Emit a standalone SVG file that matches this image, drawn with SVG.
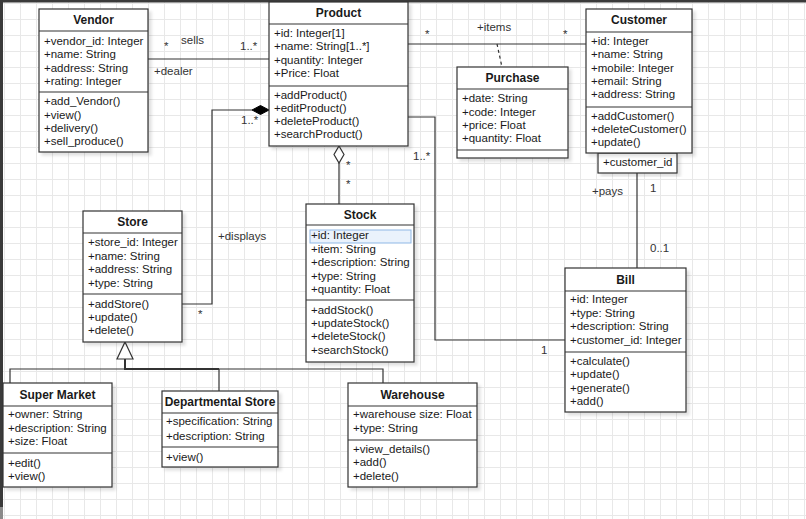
<svg xmlns="http://www.w3.org/2000/svg" width="806" height="519" viewBox="0 0 806 519">
  <style>
    text { font-family: "Liberation Sans", Arial, sans-serif; font-size: 11.5px; fill: #1a1a1a; }
    .h { font-weight: bold; text-anchor: middle; font-size: 12px; }
    .lbl { fill: #333; }
    .box { fill: #fff; stroke: #333; stroke-width: 1.2; filter: url(#shadow); }
    .sep { stroke: #333; stroke-width: 1.2; fill: none; }
    .edge { stroke: #333; stroke-width: 1.2; fill: none; }
  </style>
  <defs>
    <pattern id="grid" patternUnits="userSpaceOnUse" x="4" y="3" width="16" height="16">
      <path d="M0 0.5H16M0.5 0V16" stroke="#e8e8e8" stroke-width="1" fill="none"/>
    </pattern>
    <filter id="shadow" x="-10%" y="-10%" width="130%" height="130%">
      <feDropShadow dx="3" dy="3" stdDeviation="1.5" flood-color="#000" flood-opacity="0.12"/>
    </filter>
  </defs>

  <!-- canvas -->
  <rect width="806" height="519" fill="#fff"/>
  <rect width="806" height="519" fill="url(#grid)"/>
  <rect x="0" y="0" width="806" height="2.5" fill="#3a3a3a"/>
  <rect x="0" y="0" width="3" height="507" fill="#3a3a3a"/>
  <rect x="0" y="507" width="3" height="12" fill="#8a8a8a"/>

  <!-- connectors -->
  <g id="connectors">
    <!-- Vendor - Product -->
    <path class="edge" d="M148 59H269"/>
    <!-- Product - Customer with Purchase association class -->
    <path class="edge" d="M408 44H586"/>
    <path class="edge" d="M497 44L502 67" stroke-dasharray="3 3"/>
    <!-- Store - Product composition -->
    <path class="edge" d="M252 110H212V304H182"/>
    <polygon points="269,110 260.5,105.5 252,110 260.5,114.5" fill="#000" stroke="#000" stroke-width="1"/>
    <!-- Product - Stock aggregation -->
    <path class="edge" d="M339 163V204"/>
    <polygon points="339,146 344,154.5 339,163 334,154.5" fill="#fff" stroke="#333" stroke-width="1.2"/>
    <!-- Product - Bill -->
    <path class="edge" d="M408 117H435V340H565"/>
    <!-- Customer - Bill -->
    <path class="edge" d="M637 173V268"/>
    <!-- Store generalization -->
    <path class="edge" d="M125 359V369M10 383V369H383V383M219 369V391"/>
    <path d="M125 359V369H219" stroke="#333" stroke-width="2" fill="none"/>
    <polygon points="125,342 133,359 117,359" fill="#fff" stroke="#333" stroke-width="1.2"/>

    <text class="lbl" x="164" y="50">*</text>
    <text class="lbl" x="181" y="44">sells</text>
    <text class="lbl" x="240" y="50">1..*</text>
    <text class="lbl" x="154" y="75">+dealer</text>

    <text class="lbl" x="425" y="38">*</text>
    <text class="lbl" x="477" y="31">+items</text>
    <text class="lbl" x="563" y="38">*</text>

    <text class="lbl" x="241" y="124">1..*</text>
    <text class="lbl" x="198" y="318">*</text>
    <text class="lbl" x="218" y="240">+displays</text>

    <text class="lbl" x="346" y="169">*</text>
    <text class="lbl" x="346" y="188">*</text>

    <text class="lbl" x="413" y="160">1..*</text>
    <text class="lbl" x="541" y="354">1</text>

    <text class="lbl" x="592" y="195">+pays</text>
    <text class="lbl" x="650" y="192">1</text>
    <text class="lbl" x="650" y="252">0..1</text>
  </g>

  <!-- Vendor -->
  <g id="vendor">
    <rect class="box" x="39" y="9" width="109" height="143"/>
    <path class="sep" d="M39 31H148M39 92H148"/>
    <text class="h" x="93.5" y="24">Vendor</text>
    <text x="44" y="45">+vendor_id: Integer</text>
    <text x="44" y="58">+name: String</text>
    <text x="44" y="71.5">+address: String</text>
    <text x="44" y="84.5">+rating: Integer</text>
    <text x="44" y="105">+add_Vendor()</text>
    <text x="44" y="118.5">+view()</text>
    <text x="44" y="131.5">+delivery()</text>
    <text x="44" y="145">+sell_produce()</text>
  </g>

  <!-- Product -->
  <g id="product">
    <rect class="box" x="269" y="2" width="139" height="144"/>
    <path class="sep" d="M269 24H408M269 86H408"/>
    <text class="h" x="338.5" y="17">Product</text>
    <text x="274" y="37">+id: Integer[1]</text>
    <text x="274" y="50">+name: String[1..*]</text>
    <text x="274" y="64">+quantity: Integer</text>
    <text x="274" y="77">+Price: Float</text>
    <text x="274" y="99">+addProduct()</text>
    <text x="274" y="112">+editProduct()</text>
    <text x="274" y="125">+deleteProduct()</text>
    <text x="274" y="138">+searchProduct()</text>
  </g>

  <!-- Customer -->
  <g id="customer">
    <rect class="box" x="598" y="153" width="79" height="20"/>
    <text x="603" y="165.5">+customer_id</text>
    <rect class="box" x="586" y="9" width="106" height="144"/>
    <path class="sep" d="M586 32H692M586 107H692"/>
    <text class="h" x="639" y="24">Customer</text>
    <text x="591" y="45">+id: Integer</text>
    <text x="591" y="58">+name: String</text>
    <text x="591" y="71.5">+mobile: Integer</text>
    <text x="591" y="84.5">+email: String</text>
    <text x="591" y="98">+address: String</text>
    <text x="591" y="120">+addCustomer()</text>
    <text x="591" y="133">+deleteCustomer()</text>
    <text x="591" y="146">+update()</text>
  </g>

  <!-- Purchase -->
  <g id="purchase">
    <rect class="box" x="457" y="67" width="111" height="91"/>
    <path class="sep" d="M457 89H568M457 150H568"/>
    <text class="h" x="512.5" y="82">Purchase</text>
    <text x="462" y="102">+date: String</text>
    <text x="462" y="115.5">+code: Integer</text>
    <text x="462" y="129">+price: Float</text>
    <text x="462" y="142">+quantity: Float</text>
  </g>

  <!-- Store -->
  <g id="store">
    <rect class="box" x="83" y="211" width="99" height="131"/>
    <path class="sep" d="M83 233H182M83 294H182"/>
    <text class="h" x="132.5" y="226">Store</text>
    <text x="88" y="246">+store_id: Integer</text>
    <text x="88" y="260">+name: String</text>
    <text x="88" y="273">+address: String</text>
    <text x="88" y="287">+type: String</text>
    <text x="88" y="308">+addStore()</text>
    <text x="88" y="321">+update()</text>
    <text x="88" y="334">+delete()</text>
  </g>

  <!-- Stock -->
  <g id="stock">
    <rect class="box" x="306" y="204" width="108" height="158"/>
    <path class="sep" d="M306 225H414M306 300H414"/>
    <rect x="310" y="230" width="101" height="13" fill="#eaf2fc" stroke="#8fb8e6" stroke-width="1"/>
    <text class="h" x="360" y="219">Stock</text>
    <text x="311" y="239">+id: Integer</text>
    <text x="311" y="253">+item: String</text>
    <text x="311" y="266">+description: String</text>
    <text x="311" y="280">+type: String</text>
    <text x="311" y="293">+quantity: Float</text>
    <text x="311" y="314">+addStock()</text>
    <text x="311" y="327">+updateStock()</text>
    <text x="311" y="340">+deleteStock()</text>
    <text x="311" y="354">+searchStock()</text>
  </g>

  <!-- Bill -->
  <g id="bill">
    <rect class="box" x="565" y="268" width="121" height="144"/>
    <path class="sep" d="M565 291H686M565 352H686"/>
    <text class="h" x="625.5" y="284">Bill</text>
    <text x="570" y="303">+id: Integer</text>
    <text x="570" y="317">+type: String</text>
    <text x="570" y="330">+description: String</text>
    <text x="570" y="344">+customer_id: Integer</text>
    <text x="570" y="365">+calculate()</text>
    <text x="570" y="378">+update()</text>
    <text x="570" y="392">+generate()</text>
    <text x="570" y="405">+add()</text>
  </g>

  <!-- Super Market -->
  <g id="super-market">
    <rect class="box" x="3" y="383" width="109" height="104"/>
    <path class="sep" d="M3 406H112M3 453H112"/>
    <text class="h" x="57.5" y="399">Super Market</text>
    <text x="8" y="418">+owner: String</text>
    <text x="8" y="432">+description: String</text>
    <text x="8" y="445">+size: Float</text>
    <text x="8" y="467">+edit()</text>
    <text x="8" y="480">+view()</text>
  </g>

  <!-- Departmental Store -->
  <g id="departmental-store">
    <rect class="box" x="162" y="391" width="116" height="76"/>
    <path class="sep" d="M162 413H278M162 447H278"/>
    <text class="h" x="220" y="406">Departmental Store</text>
    <text x="166" y="425">+specification: String</text>
    <text x="166" y="440">+description: String</text>
    <text x="166" y="461">+view()</text>
  </g>

  <!-- Warehouse -->
  <g id="warehouse">
    <rect class="box" x="348" y="383" width="129" height="104"/>
    <path class="sep" d="M348 406H477M348 440H477"/>
    <text class="h" x="412.5" y="399">Warehouse</text>
    <text x="353" y="418">+warehouse size: Float</text>
    <text x="353" y="432">+type: String</text>
    <text x="353" y="453">+view_details()</text>
    <text x="353" y="466">+add()</text>
    <text x="353" y="480">+delete()</text>
  </g>
</svg>
